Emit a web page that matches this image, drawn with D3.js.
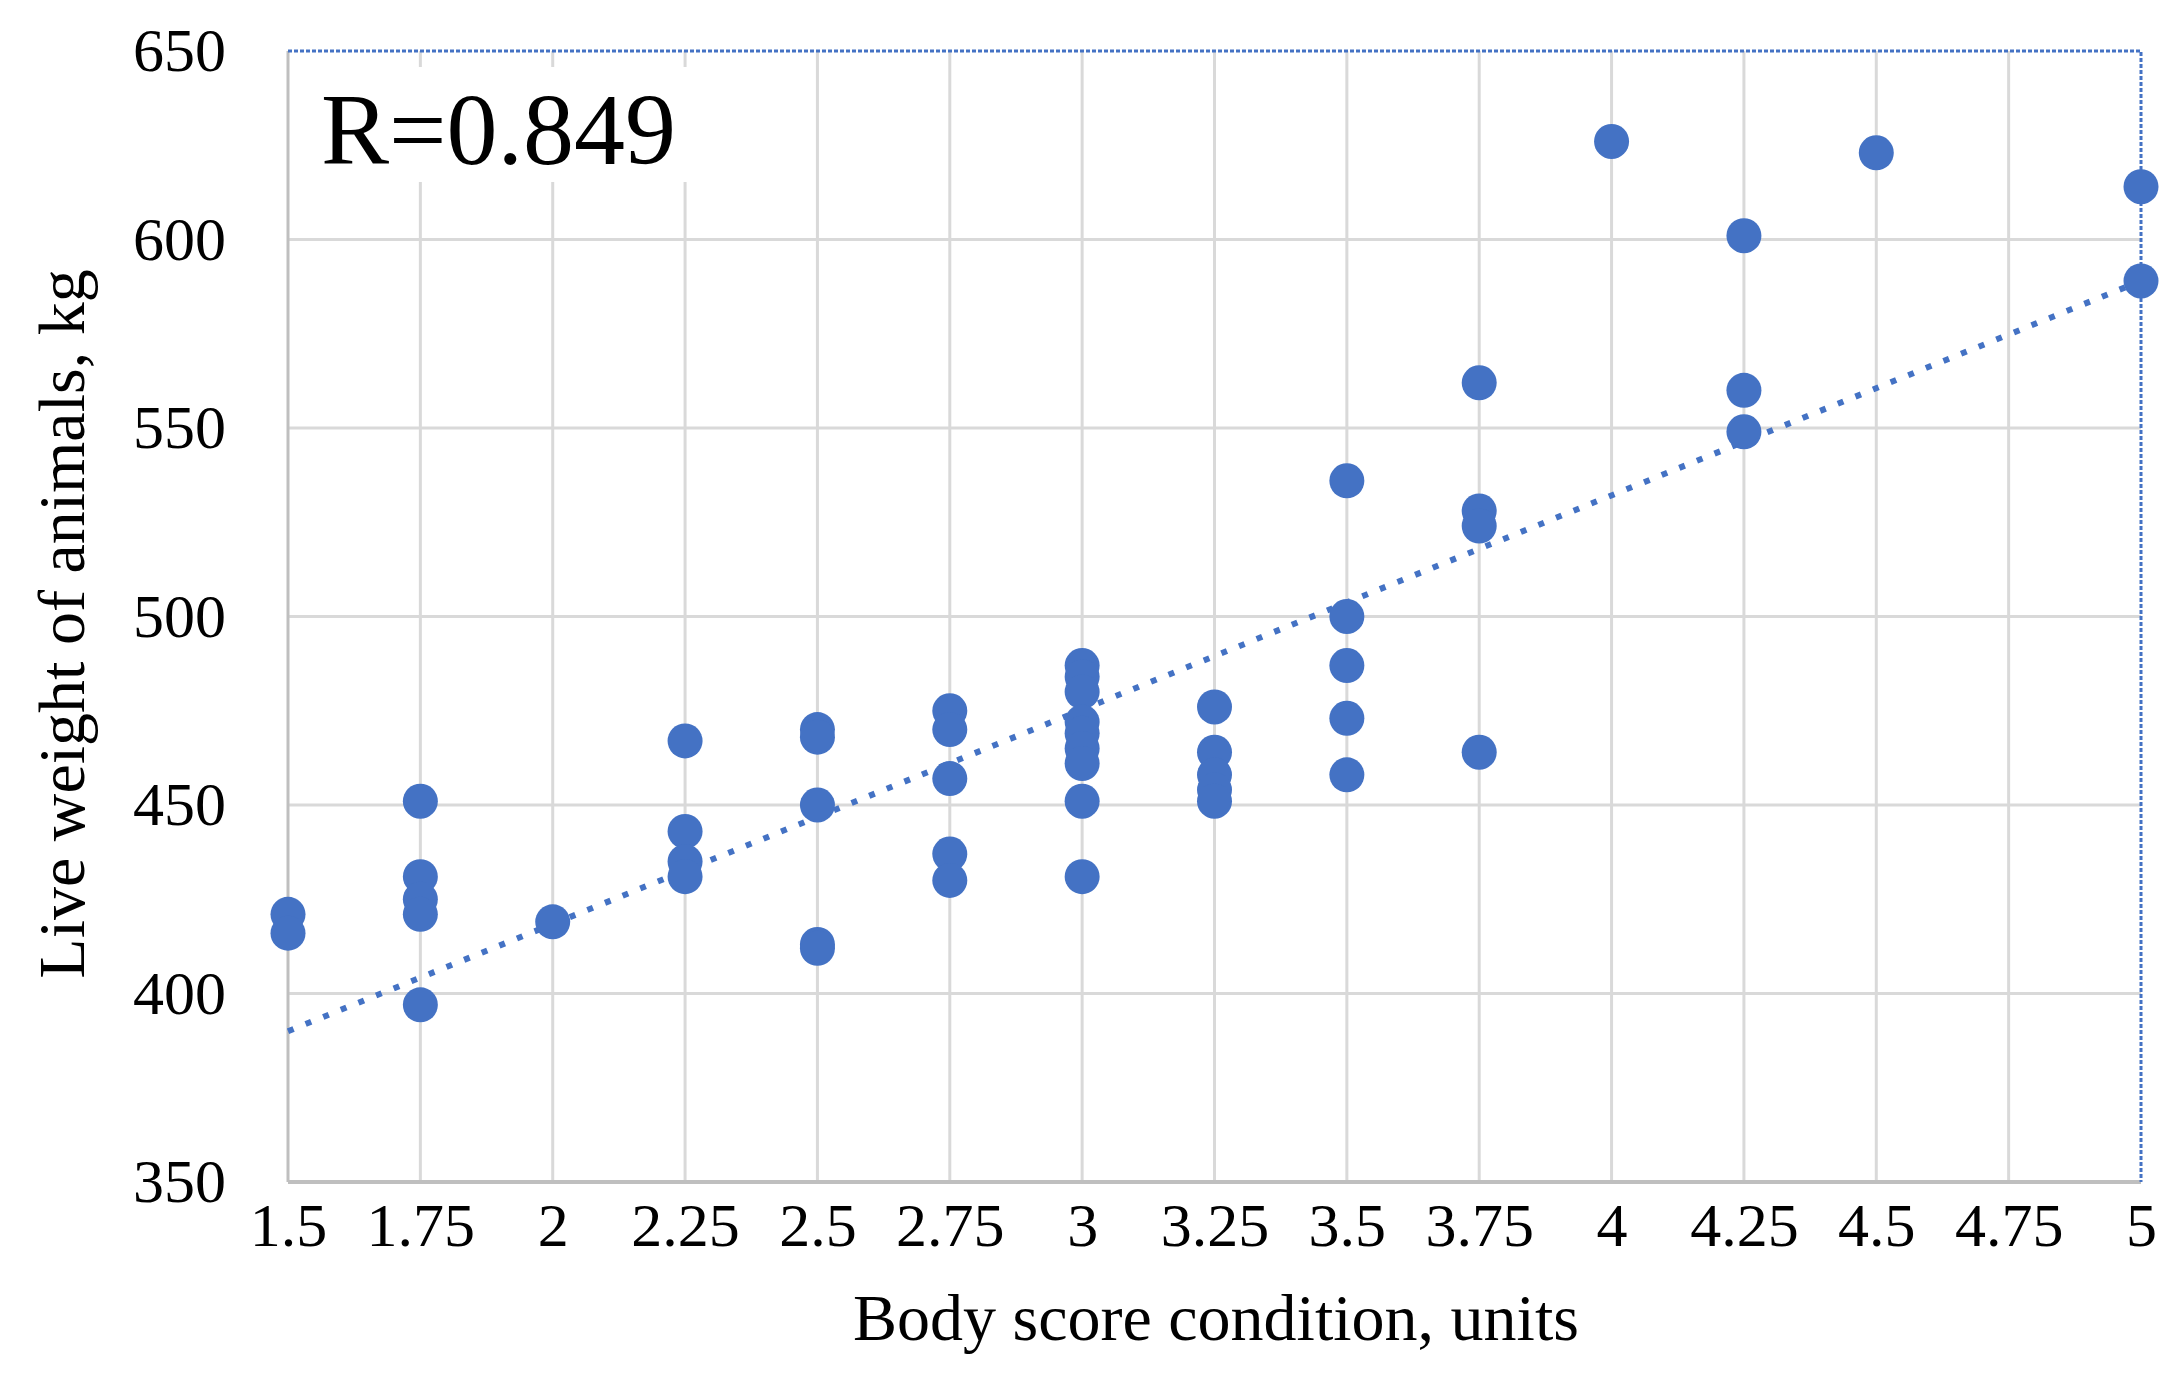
<!DOCTYPE html>
<html>
<head>
<meta charset="utf-8">
<script src="https://cdn.jsdelivr.net/npm/d3@7"></script>
<style>
  html, body { margin: 0; padding: 0; background: #fff; }
  text { font-family: "Liberation Serif", "Times New Roman", serif; fill: #000; }
</style>
</head>
<body>
<div id="chart"></div>
<script>
// body condition score (x) and live weight (y)
const bcs = [
  1.5, 1.5,
  1.75, 1.75, 1.75, 1.75, 1.75,
  2,
  2.25, 2.25, 2.25, 2.25,
  2.5, 2.5, 2.5, 2.5, 2.5,
  2.75, 2.75, 2.75, 2.75, 2.75,
  3, 3, 3, 3, 3, 3, 3, 3, 3,
  3.25, 3.25, 3.25, 3.25, 3.25,
  3.5, 3.5, 3.5, 3.5, 3.5,
  3.75, 3.75, 3.75, 3.75,
  4,
  4.25, 4.25, 4.25,
  4.5,
  5, 5
];
const weight = [
  421, 416,
  451, 431, 425, 421, 397,
  419,
  467, 443, 435, 431,
  470, 468, 450, 413, 412,
  475, 470, 457, 437, 430,
  487, 484, 480, 472, 469, 465, 461, 451, 431,
  476, 464, 458, 454, 451,
  536, 500, 487, 473, 458,
  562, 528, 524, 464,
  626,
  601, 560, 549,
  623,
  614, 589
];
// linear trend line ends
const trendX = [1.5, 5];
const trendY = [390, 589];

const xTicks = [1.5, 1.75, 2, 2.25, 2.5, 2.75, 3, 3.25, 3.5, 3.75, 4, 4.25, 4.5, 4.75, 5];
const yTicks = [350, 400, 450, 500, 550, 600, 650];
const rLabel = "R=0.849";
const xTitle = "Body score condition, units";
const yTitle = "Live weight of animals, kg";

const W = 2173, H = 1373;
const margin = { top: 51, right: 32, bottom: 191, left: 288 },
  width = W - margin.left - margin.right,
  height = H - margin.top - margin.bottom;

const blue = "#4472c4";

const svg = d3
  .select("#chart")
  .append("svg")
  .attr("width", W)
  .attr("height", H)
  .append("g")
  .attr("transform", `translate(${margin.left},${margin.top})`);

const x = d3.scaleLinear().domain([1.5, 5]).range([0, width]);
const y = d3.scaleLinear().domain([350, 650]).range([height, 0]);

// gridlines
svg.append("g")
  .selectAll("line")
  .data(xTicks.slice(1, -1))
  .join("line")
  .attr("x1", d => x(d)).attr("x2", d => x(d))
  .attr("y1", 0).attr("y2", height)
  .style("stroke", "#d9d9d9")
  .style("stroke-width", 3);

svg.append("g")
  .selectAll("line")
  .data(yTicks.slice(1, -1))
  .join("line")
  .attr("x1", 0).attr("x2", width)
  .attr("y1", d => y(d)).attr("y2", d => y(d))
  .style("stroke", "#d9d9d9")
  .style("stroke-width", 3);

// axis lines
svg.append("line")
  .attr("x1", 0).attr("x2", 0).attr("y1", 0).attr("y2", height)
  .style("stroke", "#bfbfbf").style("stroke-width", 3);
svg.append("line")
  .attr("x1", 0).attr("x2", width).attr("y1", height).attr("y2", height)
  .style("stroke", "#bfbfbf").style("stroke-width", 4);

// dotted blue border on top and right
svg.append("path")
  .attr("d", d3.line()([[x(1.5), y(650)], [x(5), y(650)], [x(5), y(350)]]))
  .style("fill", "none")
  .style("stroke", blue)
  .style("stroke-width", 3)
  .style("stroke-dasharray", "4 2");

// white box behind R label
svg.append("rect")
  .attr("x", 6).attr("y", 16)
  .attr("width", 400).attr("height", 115)
  .style("fill", "#fff");

svg.append("text")
  .attr("x", 33)
  .attr("y", 113)
  .style("font-size", "102px")
  .text(rLabel);

// x axis labels
const xAxis = svg.append("g")
  .attr("transform", `translate(0,${height})`)
  .call(d3.axisBottom(x).tickValues(xTicks).tickSize(0).tickFormat(d => String(d)));
xAxis.select(".domain").remove();
xAxis.selectAll("text")
  .attr("y", 64)
  .attr("dy", 0)
  .style("font-size", "62px")
  .style("font-family", "'Liberation Serif', 'Times New Roman', serif");

// y axis labels
const yAxis = svg.append("g")
  .call(d3.axisLeft(y).tickValues(yTicks).tickSize(0).tickPadding(62));
yAxis.select(".domain").remove();
yAxis.selectAll("text")
  .style("font-size", "62px")
  .style("font-family", "'Liberation Serif', 'Times New Roman', serif");

// trend line
svg.append("path")
  .attr("d", d3.line()(trendX.map((d, i) => [x(d), y(trendY[i])])))
  .style("fill", "none")
  .style("stroke", blue)
  .style("stroke-width", 6)
  .style("stroke-dasharray", "6 13");

// points
svg.append("g")
  .selectAll("circle")
  .data(bcs.map((d, i) => [d, weight[i]]))
  .join("circle")
  .attr("cx", d => x(d[0]))
  .attr("cy", d => y(d[1]))
  .attr("r", 17.5)
  .style("fill", blue);

// titles
svg.append("text")
  .attr("x", 928)
  .attr("y", 1289)
  .style("text-anchor", "middle")
  .style("font-size", "66px")
  .text(xTitle);

svg.append("text")
  .attr("transform", `translate(-204,${573}) rotate(-90)`)
  .style("text-anchor", "middle")
  .style("font-size", "66px")
  .text(yTitle);
</script>
</body>
</html>
